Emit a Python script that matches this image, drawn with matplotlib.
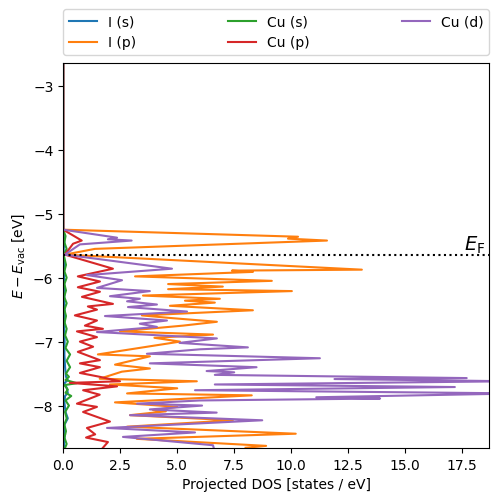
import matplotlib
matplotlib.use('Agg')
import matplotlib.pyplot as plt

# Projected DOS (DOS in states/eV, energy in eV vs vacuum)
e_fermi = -5.64
e_top = -2.64
e_bottom = -8.66

# I (s)
i_s_E = [e_top, -5.25, -5.45, -5.55, -5.64, -5.8, -6.0, -6.2, -6.4, -6.6, -6.8, -7.0,
         -7.2, -7.4, -7.55, -7.6, -7.65, -7.72, -7.8, -7.85, -7.95, -8.1, -8.2, -8.3,
         -8.45, -8.55, e_bottom]
i_s_dos = [0.0, 0.0, 0.05, 0.02, 0.02, 0.05, 0.03, 0.06, 0.04, 0.08, 0.04, 0.06,
           0.05, 0.08, 0.12, 0.2, 0.05, 0.15, 0.2, 0.08, 0.05, 0.1, 0.2, 0.05,
           0.08, 0.04, 0.03]

# I (p)
i_p_E = [e_top, -5.25, -5.36, -5.39, -5.42, -5.55, -5.64, -5.875, -5.89, -5.91, -5.98,
         -6.05, -6.10, -6.14, -6.18, -6.21, -6.28, -6.33, -6.36, -6.39, -6.44, -6.51,
         -6.59, -6.63, -6.69, -6.75, -6.84, -6.89, -6.94, -7.0, -7.20, -7.23, -7.36,
         -7.42, -7.47, -7.58, -7.62, -7.67, -7.73, -7.81, -7.84, -7.95, -8.02, -8.07,
         -8.09, -8.15, -8.23, -8.33, -8.44, -8.52, -8.63, e_bottom]
i_p_dos = [0.0, 0.0, 10.3, 9.86, 11.57, 1.39, 0.07, 13.10, 7.40, 8.32, 3.15,
           9.15, 4.6, 7.0, 4.6, 10.03, 3.5, 6.87, 5.34, 6.65, 4.68, 8.32,
           3.45, 4.68, 6.74, 5.25, 2.49, 6.57, 4.0, 5.12, 1.52, 3.8, 2.27,
           3.8, 2.57, 1.6, 5.86, 2.05, 5.0, 2.8, 8.27, 2.27, 5.0, 3.94,
           4.5, 2.93, 7.44, 2.8, 10.2, 3.23, 8.9, 8.0]

# Cu (s)
cu_s_E = [e_top, -5.25, -5.35, -5.45, -5.55, -5.64, -5.8, -5.9, -6.0, -6.1, -6.2, -6.3,
          -6.4, -6.5, -6.6, -6.7, -6.8, -6.9, -7.0, -7.1, -7.2, -7.3, -7.4, -7.5,
          -7.55, -7.6, -7.65, -7.68, -7.75, -7.8, -7.85, -7.92, -8.0, -8.1, -8.2,
          -8.3, -8.4, -8.5, -8.6, e_bottom]
cu_s_dos = [0.0, 0.0, 0.1, 0.05, 0.15, 0.02, 0.12, 0.05, 0.15, 0.05, 0.12, 0.04,
            0.15, 0.05, 0.12, 0.06, 0.15, 0.08, 0.2, 0.1, 0.3, 0.15, 0.3, 0.12,
            0.25, 0.1, 0.6, 0.05, 0.2, 0.1, 0.35, 0.1, 0.25, 0.08, 0.15,
            0.05, 0.12, 0.05, 0.15, 0.08]

# Cu (p)
cu_p_E = [e_top, -5.25, -5.42, -5.47, -5.64, -5.86, -5.98, -6.06, -6.15, -6.22, -6.30,
          -6.41, -6.45, -6.50, -6.59, -6.67, -6.75, -6.80, -6.84, -6.93, -7.0, -7.08,
          -7.16, -7.29, -7.34, -7.40, -7.49, -7.55, -7.62, -7.645, -7.70, -7.76, -7.83,
          -7.97, -8.02, -8.10, -8.25, -8.35, -8.45, -8.50, -8.57, e_bottom]
cu_p_dos = [0.0, 0.0, 0.81, 0.43, 0.07, 2.18, 0.64, 1.61, 0.64, 1.61, 0.82,
            2.18, 1.08, 1.48, 0.51, 1.48, 0.95, 1.74, 0.6, 1.48, 0.73, 1.31,
            0.64, 1.61, 0.73, 1.61, 0.73, 1.6, 2.49, 0.29, 2.36, 0.87, 1.6,
            0.6, 1.48, 0.87, 2.05, 1.04, 1.4, 1.0, 1.96, 1.74]

# Cu (d)
cu_d_E = [e_top, -5.25, -5.375, -5.40, -5.42, -5.48, -5.64, -5.86, -5.96, -6.04, -6.16,
          -6.21, -6.29, -6.33, -6.37, -6.42, -6.46, -6.53, -6.60, -6.67, -6.72, -6.77,
          -6.85, -6.95, -7.02, -7.09, -7.12, -7.19, -7.26, -7.34, -7.40, -7.46, -7.48,
          -7.52, -7.57, -7.585, -7.62, -7.67, -7.71, -7.76, -7.81, -7.87, -7.89, -7.92,
          -7.97, -8.0, -8.06, -8.11, -8.15, -8.23, -8.35, -8.42, -8.49, -8.62, e_bottom]
cu_d_dos = [0.0, 0.0, 2.36, 1.96, 3.0, 0.73, 0.07, 4.77, 1.04, 2.58, 1.48,
            3.8, 2.05, 3.36, 2.8, 4.11, 2.84, 5.43, 1.83, 4.55, 3.36, 4.11,
            1.48, 6.74, 5.1, 8.1, 6.0, 3.67, 11.26, 3.8, 8.48, 6.29, 7.5,
            6.65, 17.7, 11.9, 19.6, 6.65, 17.18, 5.78, 20.0, 11.1, 13.9, 6.0,
            3.24, 6.09, 3.8, 6.73, 2.93, 8.73, 1.92, 5.78, 2.62, 6.57, 6.6]

series = [
    ('I (s)', i_s_E, i_s_dos),
    ('I (p)', i_p_E, i_p_dos),
    ('Cu (s)', cu_s_E, cu_s_dos),
    ('Cu (p)', cu_p_E, cu_p_dos),
    ('Cu (d)', cu_d_E, cu_d_dos),
]

fig = plt.figure(figsize=(4.98, 5.02), dpi=100)
ax = fig.add_axes([0.127, 0.106, 0.855, 0.767])

for label, energies, dos in series:
    ax.plot(dos, energies, label=label)

ax.axhline(e_fermi, color='k', linestyle=':')
ax.text(18.5, e_fermi, r'$E_{\mathrm{F}}$', ha='right', va='bottom', fontsize=14)

ax.set_xlim(0, 18.68)
ax.set_ylim(e_bottom, e_top)
ax.set_xlabel('Projected DOS [states / eV]')
ax.set_ylabel(r'$E - E_{\mathrm{vac}}$ [eV]')

ax.legend(bbox_to_anchor=(0, 1.02, 1, 0.102), loc='lower left', ncol=3,
          mode='expand', borderaxespad=0)

fig.savefig('out.png', dpi=100)
